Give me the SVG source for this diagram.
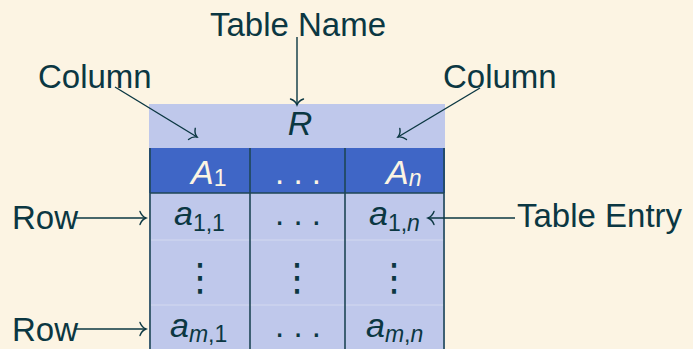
<svg xmlns="http://www.w3.org/2000/svg" width="693" height="349" viewBox="0 0 693 349">
<style>
.t{font-family:"Liberation Sans",Arial,sans-serif;font-size:33px;fill:#0b3742}
.m{font-family:"Liberation Sans",Arial,sans-serif;font-size:34px;font-style:italic;fill:#0b3742}
.h{fill:#fcf4e3}
.s{font-size:23px}
.u{font-style:normal}
.c{stroke:#0b3742;stroke-width:1.4;fill:none}
.g{stroke:#1f4656;stroke-width:1.6;fill:none}
.f{stroke:#d3d9ef;stroke-width:1;fill:none}
.v{font-family:"DejaVu Sans",sans-serif;font-size:38px;fill:#0b3742}
</style>
<defs>
<marker id="ah" markerUnits="userSpaceOnUse" markerWidth="14" markerHeight="14" viewBox="-7 -7 14 14" refX="0" refY="0" orient="auto" overflow="visible">
<path d="M-6,-6.5 C-4.5,-2.4 -1.6,-0.6 0,0 C-1.6,0.6 -4.5,2.4 -6,6.5" stroke="#0b3742" stroke-width="1.4" fill="none" stroke-linecap="round"/>
</marker>
</defs>
<rect width="693" height="349" fill="#fcf4e3"/>
<g id="table">
<rect x="149" y="104" width="296" height="245" fill="#bfc8eb"/>
<rect x="149" y="148" width="296" height="45" fill="#3f66c6"/>
<path class="f" d="M151 240H444M151 305H444"/>
<path class="g" d="M150 148V349M250 148V349M345 148V349M444 148V349M150 193H444"/>
</g>
<g id="name"><text class="m" x="300" y="135" text-anchor="middle">R</text></g>
<g id="header">
<text class="m h" x="191" y="184">A<tspan class="s u" dy="2">1</tspan></text>
<text class="t h" x="298" y="184" text-anchor="middle">. . .</text>
<text class="m h" x="386" y="184">A<tspan class="s" dy="2">n</tspan></text>
</g>
<g id="row1">
<text class="m" x="174" y="225">a<tspan class="s u" dy="6">1,1</tspan></text>
<text class="t" x="298" y="225" text-anchor="middle">. . .</text>
<text class="m" x="369" y="225">a<tspan class="s u" dy="6">1,</tspan><tspan class="s">n</tspan></text>
</g>
<g id="vdots">
<text class="v" x="200" y="290" text-anchor="middle">⋮</text>
<text class="v" x="297" y="290" text-anchor="middle">⋮</text>
<text class="v" x="394" y="290" text-anchor="middle">⋮</text>
</g>
<g id="rowm">
<text class="m" x="170" y="337">a<tspan class="s" dy="5">m</tspan><tspan class="s u">,1</tspan></text>
<text class="t" x="298" y="337" text-anchor="middle">. . .</text>
<text class="m" x="366" y="337">a<tspan class="s" dy="5">m</tspan><tspan class="s u">,</tspan><tspan class="s">n</tspan></text>
</g>
<g id="labels">
<text class="t" x="298" y="36" text-anchor="middle">Table Name</text>
<text class="t" x="38" y="88">Column</text>
<text class="t" x="443" y="88">Column</text>
<text class="t" x="517" y="227">Table Entry</text>
<text class="t" x="12" y="229">Row</text>
<text class="t" x="12" y="341">Row</text>
</g>
<g id="connectors">
<path class="c" d="M297 37V105" marker-end="url(#ah)"/>
<path class="c" d="M115 87L197 137" marker-end="url(#ah)"/>
<path class="c" d="M480 88L398 137" marker-end="url(#ah)"/>
<path class="c" d="M515 218H428" marker-end="url(#ah)"/>
<path class="c" d="M76 218H146" marker-end="url(#ah)"/>
<path class="c" d="M76 329H146" marker-end="url(#ah)"/>
</g>
</svg>
